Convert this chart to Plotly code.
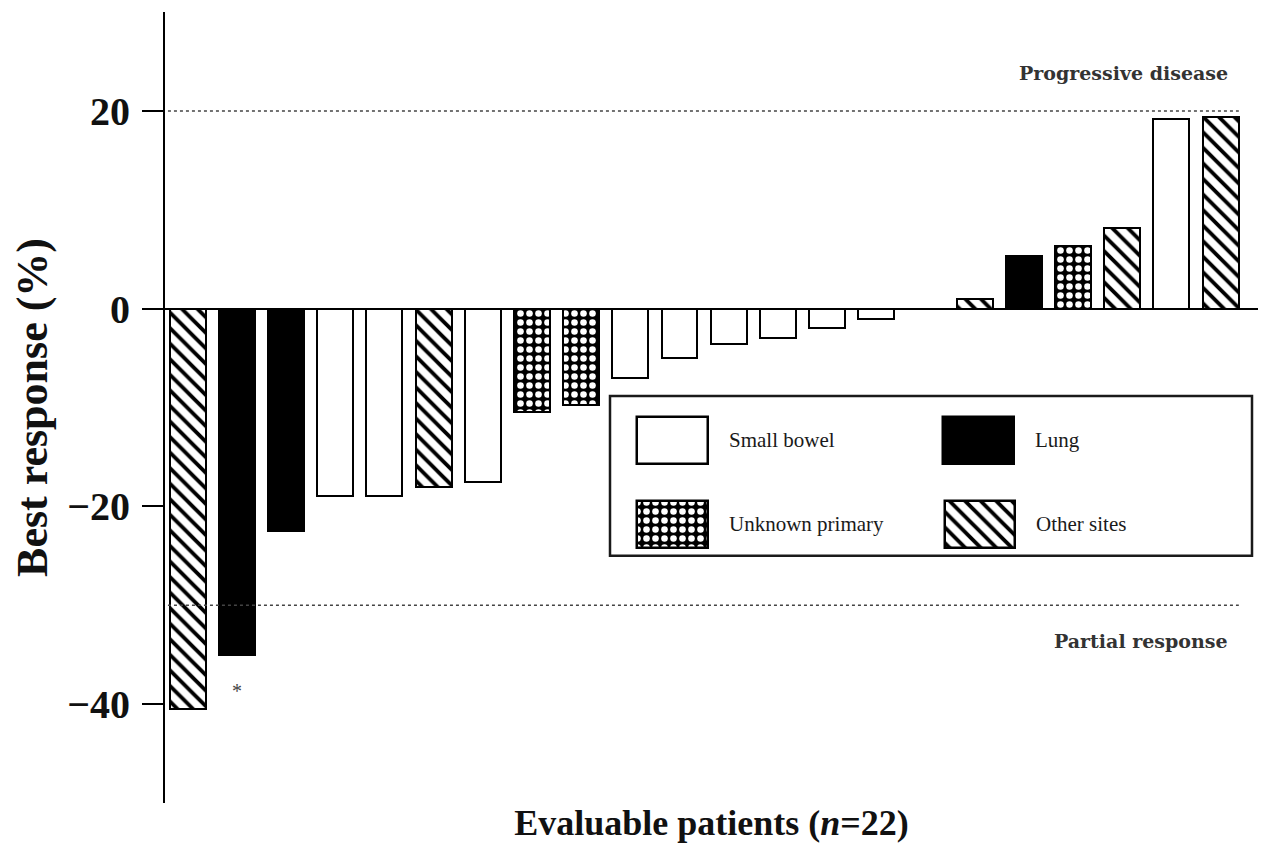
import plotly.graph_objects as go

# Best response per evaluable patient, sorted waterfall order
patients = list(range(1, 23))
best_response = [-40.5, -35.0, -22.5, -19.0, -19.0, -18.0, -17.5, -10.5, -9.7, -7.0, -5.0,
                 -3.6, -3.0, -2.0, -1.0, 0.0, 1.0, 5.3, 6.3, 8.2, 19.2, 19.4]
primary_site = ["Other sites", "Lung", "Lung", "Small bowel", "Small bowel", "Other sites",
                "Small bowel", "Unknown primary", "Unknown primary", "Small bowel", "Small bowel",
                "Small bowel", "Small bowel", "Small bowel", "Small bowel", "Small bowel",
                "Other sites", "Lung", "Unknown primary", "Other sites", "Small bowel", "Other sites"]
site_order = ["Small bowel", "Lung", "Unknown primary", "Other sites"]
y_ticks = [-40, -20, 0, 20]
y_tick_text = ["\u221240", "\u221220", "0", "20"]
progression_cut = 20
partial_response_cut = -30

SERIF = "Liberation Serif"
WIDE_SERIF = "DejaVu Serif"

# fill style for each primary site
styles = {
    "Small bowel": dict(color="white", pattern=dict(shape="")),
    "Lung": dict(color="black", pattern=dict(shape="")),
    "Unknown primary": dict(color="black",
                            pattern=dict(shape=".", fgcolor="white", bgcolor="black",
                                         fgopacity=1, size=9, solidity=0.42, fillmode="overlay")),
    "Other sites": dict(color="white",
                        pattern=dict(shape="\\", fgcolor="black", bgcolor="white",
                                     fgopacity=1, size=11, solidity=0.35, fillmode="overlay")),
}

fig = go.Figure()
for site in site_order:
    xs = [p for p, s in zip(patients, primary_site) if s == site]
    ys = [v for v, s in zip(best_response, primary_site) if s == site]
    st = styles[site]
    fig.add_trace(go.Bar(
        x=xs, y=ys, width=0.73, name=site, showlegend=False,
        marker=dict(color=st["color"], pattern=st["pattern"],
                    line=dict(color="black", width=2)),
    ))

# legend keys, placed on a pixel-scaled overlay axis
L, R, T, B = 165, 1258, 12, 805
key_boxes = {
    "Small bowel": (637, 708, 418, 465),
    "Lung": (943, 1014, 418, 465),
    "Unknown primary": (637, 708, 502, 549),
    "Other sites": (945, 1015, 502, 549),
}
for site in site_order:
    x0, x1, y0, y1 = key_boxes[site]
    st = styles[site]
    fig.add_trace(go.Bar(
        x=[(x0 + x1) / 2], y=[y1 - y0], base=[y0], width=[x1 - x0],
        xaxis="x2", yaxis="y2", showlegend=False, hoverinfo="skip",
        marker=dict(color=st["color"], pattern=st["pattern"],
                    line=dict(color="black", width=2.5)),
    ))
    fig.add_annotation(x=x1 + 19, y=(y0 + y1) / 2, xref="x2", yref="y2",
                       text=site, showarrow=False, xanchor="left", yanchor="middle",
                       font=dict(family=SERIF, size=21, color="#1a1a1a"))

# legend frame
fig.add_shape(type="rect", xref="x2", yref="y2", x0=610, x1=1252, y0=397, y1=557,
              line=dict(color="#1a1a1a", width=2.5), fillcolor="rgba(0,0,0,0)", layer="below")

# response thresholds
for cut in (progression_cut, partial_response_cut):
    fig.add_shape(type="line", xref="x", yref="y", x0=0.6, x1=22.37, y0=cut, y1=cut,
                  line=dict(color="#444", width=1.5, dash="dot"))

fig.add_annotation(x=22.2, y=progression_cut, xref="x", yref="y", yshift=38,
                   text="<b>Progressive disease</b>", showarrow=False, xanchor="right",
                   font=dict(family=WIDE_SERIF, size=19, color="#333"))
fig.add_annotation(x=22.2, y=partial_response_cut, xref="x", yref="y", yshift=-36,
                   text="<b>Partial response</b>", showarrow=False, xanchor="right",
                   font=dict(family=WIDE_SERIF, size=19, color="#333"))
fig.add_annotation(x=2, y=best_response[1], xref="x", yref="y", yshift=-36,
                   text="*", showarrow=False,
                   font=dict(family=SERIF, size=20, color="#444"))

fig.update_layout(
    width=1280, height=846,
    margin=dict(l=L, r=1280 - R, t=T, b=846 - B),
    paper_bgcolor="white", plot_bgcolor="white",
    barmode="overlay", bargap=0,
    xaxis=dict(range=[0.54, 22.76], showticklabels=False, ticks="", showgrid=False,
               zeroline=False, showline=False,
               title=dict(text="<b>Evaluable patients (<i>n</i>=22)</b>", standoff=6,
                          font=dict(family=SERIF, size=36, color="#111"))),
    yaxis=dict(range=[-50, 30], tickvals=y_ticks, ticktext=y_tick_text,
               ticks="outside", ticklen=21, tickwidth=2, tickcolor="black",
               ticklabelstandoff=4,
               showline=True, linewidth=2, linecolor="black",
               showgrid=False, zeroline=True, zerolinecolor="black", zerolinewidth=2,
               tickfont=dict(family=SERIF, size=40, color="#111", weight="bold"),
               title=dict(text="<b>Best response (%)</b>", standoff=6,
                          font=dict(family=SERIF, size=44, color="#111"))),
    xaxis2=dict(range=[L, R], overlaying="x", visible=False, fixedrange=True),
    yaxis2=dict(range=[B, T], overlaying="y", visible=False, fixedrange=True),
    showlegend=False,
)

fig.write_html("out.html")
